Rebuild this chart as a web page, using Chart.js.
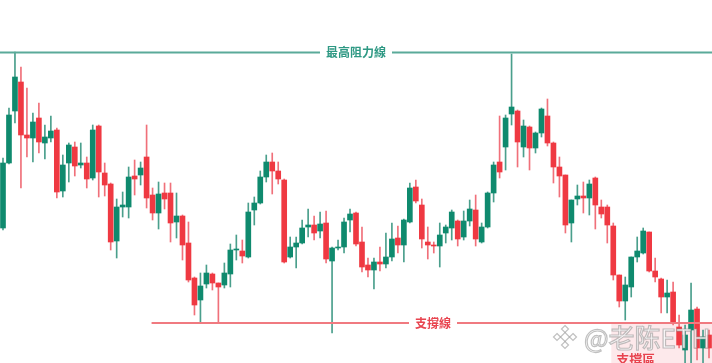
<!DOCTYPE html>
<html>
<head>
<meta charset="utf-8">
<script src="https://cdn.jsdelivr.net/npm/chart.js@4.4.1/dist/chart.umd.min.js"></script>
<style>
  html, body { margin: 0; padding: 0; background: #ffffff; }
  #wrap { width: 712px; height: 363px; position: relative; }
</style>
</head>
<body>
<div id="wrap"><canvas id="candleChart" width="712" height="363"></canvas></div>
<script>
// candle values (arbitrary price units)
const opens  = [135,200,252,281,228,225,245,220,225,233,172,200,216,198,200,185,237,190,179,122,
                156,156,187,188,206,168,150,170,170,141,147,120,85,63,79,89,80,78,89,113,
                112,106,153,160,186,201,192,183,106,116,120,136,138,132,140,102,115,116,143,150,
                121,98,93,101,99,106,125,118,141,176,158,121,118,117,130,135,142,126,142,153,
                121,136,170,201,216,249,252,216,236,215,230,247,220,196,188,140,164,167,165,185,
                156,156,137,88,62,76,106,110,131,92,84,66,71,36,13,33,54,15,28];
const closes = [200,248,286,228,225,241,221,226,232,171,198,218,197,200,184,233,191,178,121,156,
                158,186,184,195,165,150,169,164,140,147,118,83,58,77,90,80,76,90,113,114,
                107,151,160,186,201,192,184,101,116,120,135,138,130,139,104,115,116,141,149,119,
                96,93,101,99,106,124,118,143,175,162,124,118,117,128,136,151,124,142,154,124,
                136,170,198,191,245,256,221,237,215,230,254,220,196,187,138,163,167,165,179,158,
                149,138,88,62,78,106,112,132,92,86,66,70,40,18,28,53,15,26,15];
const highs  = [205,255,311,296,275,250,260,238,247,235,208,220,221,220,206,238,238,200,180,164,
                171,196,203,201,238,175,181,180,180,170,148,141,86,90,98,90,80,100,119,128,
                123,160,166,192,208,210,201,184,126,126,143,154,147,151,152,116,123,145,154,151,
                136,105,105,116,130,140,137,144,180,183,164,136,121,140,138,153,143,152,163,168,
                140,171,201,247,248,309,253,243,237,231,255,264,221,206,188,163,178,181,183,186,
                163,158,140,88,86,106,126,135,131,105,85,83,81,48,38,80,56,33,33];
const lows   = [133,199,240,175,206,201,210,204,221,165,166,181,187,195,175,183,166,167,113,105,
                146,145,168,178,155,143,134,154,121,125,103,81,48,40,75,73,40,75,76,103,
                100,105,138,159,181,169,179,100,105,95,119,126,123,125,100,30,113,110,131,117,
                91,86,74,92,95,102,110,101,140,160,115,104,110,96,120,123,117,123,137,117,
                120,135,161,185,193,238,196,206,193,210,226,217,180,166,130,121,158,150,148,134,
                145,120,83,56,43,66,101,109,91,81,50,50,38,15,0,0,3,0,5];

const resistanceLevel = 310.5;
const supportLevel = 40;
const supportStartIndex = 25;  // support line begins under this candle
const zoneStartIndex = 102;    // pink support zone starts here

const labels = opens.map((_, i) => i + 1);

const GREEN = '#0f8a6e';
const RED = '#ef3942';
const GREEN_WICK = '#4a9f8c';
const RED_WICK = '#f0707a';

const isUp = opens.map((o, i) => closes[i] >= o);

// lines, zone and labels drawn straight on the canvas
const levelsPlugin = {
    id: 'levels',
    beforeDatasetsDraw(chart) {
        const ctx = chart.ctx;
        const x = chart.scales.x;
        const y = chart.scales.y;
        const area = chart.chartArea;

        // support zone
        const zx = x.getPixelForValue(zoneStartIndex) - 2;
        const zy = y.getPixelForValue(supportLevel);
        ctx.save();
        ctx.fillStyle = 'rgba(244, 120, 128, 0.16)';
        ctx.fillRect(zx, zy, area.right - zx, area.bottom - zy);
        ctx.fillStyle = '#e8444f';
        ctx.font = 'bold 13px "Noto Sans CJK TC"';
        ctx.textBaseline = 'top';
        ctx.fillText('支撐區', zx + 5, 353);
        ctx.restore();
    },
    afterDatasetsDraw(chart) {
        const ctx = chart.ctx;
        const x = chart.scales.x;
        const y = chart.scales.y;
        const area = chart.chartArea;

        // highest resistance line
        drawLevel(ctx, 0, area.right, y.getPixelForValue(resistanceLevel),
            '#5aaa99', '#2f9984', '最高阻力線', 356);

        // support line
        drawLevel(ctx, x.getPixelForValue(supportStartIndex) - 1, area.right, y.getPixelForValue(supportLevel),
            '#f07a80', '#e8444f', '支撐線', 433);

        drawWatermark(ctx);
    }
};

function drawLevel(ctx, x0, x1, py, lineColor, textColor, text, cx) {
    ctx.save();
    ctx.font = 'bold 12px "Noto Sans CJK TC"';
    const tw = ctx.measureText(text).width;
    const gap = 6;
    ctx.strokeStyle = lineColor;
    ctx.lineWidth = 2;
    ctx.beginPath();
    ctx.moveTo(x0, py);
    ctx.lineTo(cx - tw / 2 - gap, py);
    ctx.moveTo(cx + tw / 2 + gap, py);
    ctx.lineTo(x1, py);
    ctx.stroke();
    ctx.fillStyle = textColor;
    ctx.textAlign = 'center';
    ctx.textBaseline = 'middle';
    ctx.fillText(text, cx, py);
    ctx.restore();
}

function drawWatermark(ctx) {
    ctx.save();
    ctx.fillStyle = 'rgba(255, 255, 255, 0.85)';
    ctx.strokeStyle = 'rgba(140, 140, 140, 0.55)';
    ctx.lineWidth = 1.2;
    // diamond logo
    const lx = 565, ly = 337;
    const diamonds = [[0, 0, 4.5], [0, -8, 3.5], [0, 8, 3.5], [-8, 0, 3.5], [8, 0, 3.5]];
    diamonds.forEach(d => {
        ctx.beginPath();
        ctx.moveTo(lx + d[0], ly + d[1] - d[2]);
        ctx.lineTo(lx + d[0] + d[2], ly + d[1]);
        ctx.lineTo(lx + d[0], ly + d[1] + d[2]);
        ctx.lineTo(lx + d[0] - d[2], ly + d[1]);
        ctx.closePath();
        ctx.fill();
        ctx.stroke();
    });
    ctx.font = '26px "Noto Sans CJK SC"';
    ctx.textBaseline = 'middle';
    ctx.fillText('@老陈ETH', 584, 338);
    ctx.strokeText('@老陈ETH', 584, 338);
    ctx.restore();
}

const chartData = {
    labels: labels,
    datasets: [
        {
            label: 'wick',
            data: lows.map((l, i) => [l, highs[i]]),
            backgroundColor: isUp.map(up => up ? GREEN_WICK : RED_WICK),
            barThickness: 1,
            grouped: false,
            order: 2
        },
        {
            label: 'body',
            data: opens.map((o, i) => [o, closes[i]]),
            backgroundColor: isUp.map(up => up ? GREEN : RED),
            barThickness: 5,
            grouped: false,
            order: 1
        }
    ]
};

new Chart(document.getElementById('candleChart').getContext('2d'), {
    type: 'bar',
    data: chartData,
    options: {
        responsive: false,
        animation: false,
        layout: { padding: 0 },
        plugins: {
            legend: { display: false },
            tooltip: { enabled: false }
        },
        scales: {
            x: { display: false, offset: true },
            y: { display: false, min: 0, max: 363 }
        }
    },
    plugins: [levelsPlugin]
});
</script>
</body>
</html>
